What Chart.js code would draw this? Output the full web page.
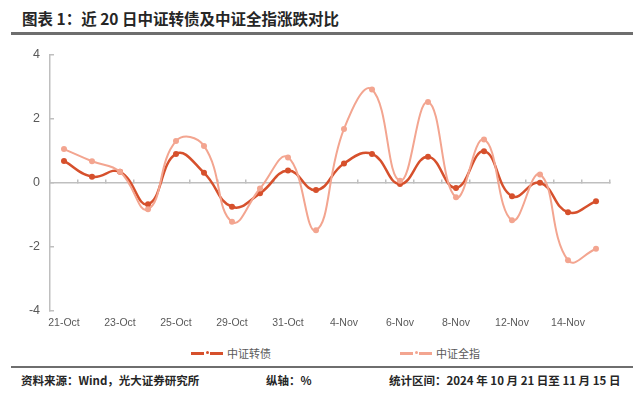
<!DOCTYPE html>
<html>
<head>
<meta charset="utf-8">
<script src="https://cdn.jsdelivr.net/npm/chart.js@4"></script>
<style>
  body { margin: 0; width: 640px; height: 393px; background: #fff; position: relative; overflow: hidden; font-family: "Noto Sans CJK SC", "Liberation Sans", sans-serif; }
  .title { position: absolute; left: 22px; top: 7px; font-size: 15.5px; font-weight: bold; color: #262626; line-height: 22px; white-space: nowrap; }
  .rule { position: absolute; left: 11px; width: 622px; background: #6e6e6e; }
  .wrap { position: absolute; left: 0; top: 33px; width: 640px; height: 307px; }
  .legend { position: absolute; top: 344px; font-size: 11px; color: #595959; line-height: 18px; white-space: nowrap; }
  .mark { display: inline-block; position: relative; width: 32px; height: 18px; vertical-align: top; margin-right: 4px; }
  .mark i { position: absolute; top: 8px; height: 2.5px; width: 13px; }
  .mark b { position: absolute; top: 7px; left: 14.5px; width: 3px; height: 3px; border-radius: 50%; }
  .foot { position: absolute; top: 371px; font-size: 11.5px; font-weight: bold; color: #262626; line-height: 18px; white-space: nowrap; }
</style>
</head>
<body>
<div class="title">图表 1：近 20 日中证转债及中证全指涨跌对比</div>
<div class="wrap"><canvas id="chart"></canvas></div>
<div class="rule" style="top:32px;height:3px"></div>
<div class="legend" style="left:191px"><span class="mark"><i style="left:0;background:#d6502c"></i><b style="background:#d6502c"></b><i style="right:0;background:#d6502c"></i></span>中证转债</div>
<div class="legend" style="left:400px"><span class="mark"><i style="left:0;background:#f3a590"></i><b style="background:#f3a590"></b><i style="right:0;background:#f3a590"></i></span>中证全指</div>
<div class="rule" style="top:366px;height:2px"></div>
<div class="foot" style="left:21px">资料来源：Wind，光大证券研究所</div>
<div class="foot" style="left:266px">纵轴：%</div>
<div class="foot" style="left:389px">统计区间：2024 年 10 月 21 日至 11 月 15 日</div>

<script>
const dates = ['21-Oct', '22-Oct', '23-Oct', '24-Oct', '25-Oct', '28-Oct', '29-Oct', '30-Oct', '31-Oct', '1-Nov',
  '4-Nov', '5-Nov', '6-Nov', '7-Nov', '8-Nov', '11-Nov', '12-Nov', '13-Nov', '14-Nov', '15-Nov']
const convBond = [0.68, 0.19, 0.34, -0.67, 0.90, 0.31, -0.75, -0.33, 0.38, -0.23,
  0.60, 0.90, -0.04, 0.81, -0.16, 0.98, -0.42, 0.00, -0.92, -0.58]
const allShare = [1.05, 0.67, 0.34, -0.83, 1.30, 1.15, -1.22, -0.18, 0.79, -1.48,
  1.68, 2.91, 0.06, 2.52, -0.45, 1.35, -1.17, 0.26, -2.42, -2.06]
const yTicks = [-4, -2, 0, 2, 4]

const axisGray = '#bfbfbf'
const tickColor = '#595959'

const ctx = document.getElementById('chart')

const config = {
  type: 'line',
  data: {
    labels: dates,
    datasets: [{
      label: '中证全指',
      data: allShare,
      borderColor: '#f3a590',
      backgroundColor: '#f3a590',
      borderWidth: 2,
      pointRadius: 3,
      pointBorderWidth: 0,
      tension: 0.45
    }, {
      label: '中证转债',
      data: convBond,
      borderColor: '#d6502c',
      backgroundColor: '#d6502c',
      borderWidth: 2.5,
      pointRadius: 3,
      pointBorderWidth: 0,
      tension: 0.45
    }]
  },
  options: {
    responsive: true,
    maintainAspectRatio: false,
    animation: false,
    layout: { padding: { top: 8, right: 30, left: 0, bottom: 0 } },
    plugins: {
      legend: { display: false },
      tooltip: { enabled: false }
    },
    scales: {
      x: {
        offset: true,
        grid: { display: false, drawTicks: false },
        border: { display: false },
        ticks: {
          autoSkip: false,
          maxRotation: 0,
          padding: 6,
          color: tickColor,
          font: { family: 'Liberation Sans', size: 10.5 },
          callback: (v, i) => i % 2 === 0 ? dates[i] : ''
        },
        afterFit: s => { s.height = 29 }
      },
      // zero line with the small category tick marks
      x0: {
        type: 'category',
        position: { y: 0 },
        offset: true,
        grid: { drawOnChartArea: false, offset: true, tickLength: -4, color: axisGray, lineWidth: 1.5 },
        border: { color: axisGray, width: 1.5 },
        ticks: { display: false },
        afterFit: s => { s.height = 0 }
      },
      y: {
        min: -4,
        max: 4,
        afterBuildTicks: s => { s.ticks = yTicks.map(v => ({ value: v })) },
        grid: { drawOnChartArea: false, tickLength: -4, color: axisGray, lineWidth: 1.5 },
        border: { color: axisGray, width: 1.5 },
        ticks: {
          padding: 14,
          color: tickColor,
          font: { family: 'Liberation Sans', size: 12.5 }
        },
        afterFit: s => { s.width = 50 }
      }
    }
  }
}

const chart = new Chart(ctx, config)
</script>
</body>
</html>
